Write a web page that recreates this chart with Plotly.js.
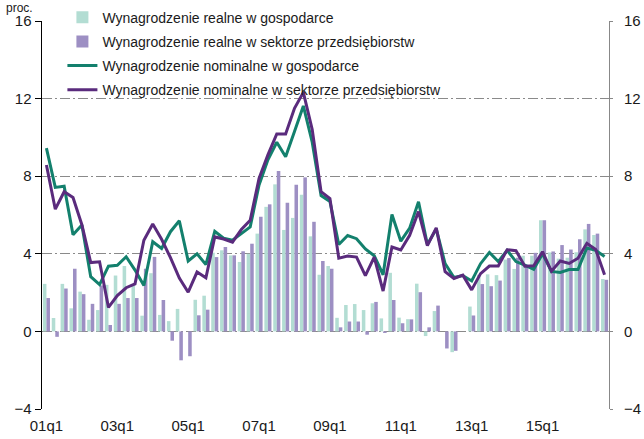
<!DOCTYPE html>
<html>
<head>
<meta charset="utf-8">
<script src="https://cdn.plot.ly/plotly-3.0.1.min.js"></script>
<style>html,body{margin:0;padding:0;background:#fff;}#chart{width:644px;height:439px;}</style>
</head>
<body>
<div id="chart"></div>
<script>
const quarters = [
  "01q1","01q2","01q3","01q4","02q1","02q2","02q3","02q4",
  "03q1","03q2","03q3","03q4","04q1","04q2","04q3","04q4",
  "05q1","05q2","05q3","05q4","06q1","06q2","06q3","06q4",
  "07q1","07q2","07q3","07q4","08q1","08q2","08q3","08q4",
  "09q1","09q2","09q3","09q4","10q1","10q2","10q3","10q4",
  "11q1","11q2","11q3","11q4","12q1","12q2","12q3","12q4",
  "13q1","13q2","13q3","13q4","14q1","14q2","14q3","14q4",
  "15q1","15q2","15q3","15q4","16q1","16q2","16q3","16q4"
];
const tickLabels = ["01q1","03q1","05q1","07q1","09q1","11q1","13q1","15q1"];
const yTicks = [-4, 0, 4, 8, 12, 16];

const realGosp = [
  2.45, 0.69, 2.45, 1.19, 2.05, 0.60, 1.10, 2.40,
  2.88, 3.37, 2.37, 0.81, 3.00, 0.85, 0.53, 1.16,
  0.00, 1.63, 1.84, 4.06, 4.18, 3.92, 3.58, 4.00,
  5.04, 6.42, 7.58, 5.23, 5.85, 7.05, 4.90, 2.92,
  3.37, 0.70, 1.36, 1.41, 1.10, 1.45, 0.67, 3.02,
  0.71, 0.63, 2.46, -0.24, 1.05, 0.00, -1.07, 0.00,
  1.28, 2.92, 2.94, 2.90, 3.70, 3.22, 3.90, 3.90,
  5.73, 4.07, 3.75, 3.80, 4.08, 5.26, 4.97, 2.70
];
const realPrzeds = [
  1.72, -0.28, 2.21, 3.23, 1.92, 1.42, 2.37, 0.33,
  1.42, 1.72, 1.72, 3.23, 3.84, 1.62, -0.48, -1.49,
  -1.28, 0.83, 1.12, 3.83, 4.35, 3.92, 4.13, 4.52,
  5.91, 6.55, 8.27, 6.63, 7.56, 7.94, 5.65, 3.63,
  3.23, 0.21, 0.51, 0.51, -0.17, 1.52, -0.08, 1.62,
  0.42, 0.62, 2.02, 0.21, 1.33, -0.88, -1.00, 0.00,
  0.82, 2.44, 2.33, 2.62, 3.78, 3.80, 3.35, 4.05,
  5.73, 4.12, 4.45, 4.22, 4.75, 5.54, 5.04, 2.66
];
const nomGosp = [
  9.45, 7.42, 7.48, 4.98, 5.48, 2.82, 2.41, 3.36,
  3.41, 3.85, 3.16, 2.37, 4.62, 4.27, 5.14, 5.70,
  3.63, 4.00, 3.44, 5.16, 4.80, 4.70, 5.04, 5.39,
  7.55, 8.85, 9.75, 9.00, 10.30, 11.62, 9.75, 7.00,
  6.70, 4.48, 4.94, 4.78, 4.25, 3.90, 2.92, 6.03,
  4.65, 5.32, 6.68, 4.48, 5.28, 3.50, 2.78, 2.88,
  2.60, 3.49, 4.07, 3.60, 4.18, 3.60, 3.42, 3.20,
  4.00, 3.09, 3.04, 3.19, 3.19, 4.30, 4.18, 3.86
];
const nomPrzeds = [
  8.58, 6.30, 7.20, 6.90, 5.50, 3.55, 3.59, 1.24,
  1.85, 2.25, 2.45, 4.70, 5.54, 4.75, 3.80, 2.75,
  2.02, 3.06, 2.76, 4.87, 4.76, 4.60, 5.25, 5.73,
  7.89, 9.10, 10.18, 10.18, 11.50, 12.32, 10.40, 7.20,
  6.85, 3.77, 3.88, 3.83, 2.87, 3.83, 2.08, 4.35,
  4.20, 4.95, 6.18, 4.42, 5.34, 3.08, 2.73, 2.90,
  2.14, 2.98, 3.37, 3.37, 4.21, 4.16, 3.36, 3.38,
  4.11, 3.10, 3.63, 3.50, 3.77, 4.54, 4.22, 2.92
];

const names = [
  "Wynagrodzenie realne w gospodarce",
  "Wynagrodzenie realne w sektorze przedsiębiorstw",
  "Wynagrodzenie nominalne w gospodarce",
  "Wynagrodzenie nominalne w sektorze przedsiębiorstw"
];
const colors = ["#b3ddd3", "#9d8fc3", "#13806d", "#5a2b7d"];

const font = "Liberation Sans, Arial, sans-serif";
const boundaryTicks = tickLabels.map(t => quarters.indexOf(t) - 0.5).concat([quarters.length - 0.5]);

const traces = [
  {type: "bar", x: quarters, y: realGosp, name: names[0], marker: {color: colors[0]}, legendgroup: "a", xaxis: "x", yaxis: "y"},
  {type: "bar", x: quarters, y: realPrzeds, name: names[1], marker: {color: colors[1]}, legendgroup: "b", xaxis: "x", yaxis: "y"},
  {type: "scatter", mode: "lines", x: quarters, y: nomGosp, name: names[2], line: {color: colors[2], width: 3}, legendgroup: "c", xaxis: "x", yaxis: "y"},
  {type: "scatter", mode: "lines", x: quarters, y: nomPrzeds, name: names[3], line: {color: colors[3], width: 3}, legendgroup: "d", xaxis: "x", yaxis: "y2"}
];

const layout = {
  width: 644, height: 439,
  margin: {l: 42, r: 35, t: 21, b: 30, autoexpand: false},
  paper_bgcolor: "#fff", plot_bgcolor: "#fff",
  font: {family: font, color: "#1a1a1a", size: 15},
  barmode: "group", bargap: 0.2, bargroupgap: 0,
  showlegend: true,
  legend: {
    x: 0.036, y: 1.05, xanchor: "left", yanchor: "top",
    bgcolor: "rgba(0,0,0,0)", traceorder: "grouped", tracegroupgap: 3,
    font: {size: 14, family: font, color: "#1a1a1a"}
  },
  xaxis: {
    type: "category", categoryarray: quarters, categoryorder: "array",
    range: [-0.5, quarters.length - 0.5],
    tickvals: tickLabels, ticks: "", showline: false, showgrid: false, zeroline: false,
    tickfont: {size: 15, family: font, color: "#1a1a1a"},
    ticklabelstandoff: 6
  },
  xaxis2: {
    type: "linear", overlaying: "x", anchor: "free", position: 0.2,
    range: [-0.5, quarters.length - 0.5],
    tickvals: boundaryTicks, ticks: "outside", ticklen: 5, tickwidth: 1.5, tickcolor: "#000",
    showticklabels: false, showline: true, linecolor: "#000", linewidth: 1.5,
    showgrid: false, zeroline: false
  },
  yaxis: {
    range: [-4, 16], tickvals: yTicks, ticks: "outside", ticklen: 6, tickcolor: "#000",
    showline: true, linecolor: "#000", linewidth: 1.5,
    showgrid: true, gridcolor: "#8a8a8a", gridwidth: 1, griddash: "10px,3px,2px,3px",
    zeroline: false, tickfont: {size: 15, family: font, color: "#1a1a1a"}
  },
  yaxis2: {
    overlaying: "y", side: "right", anchor: "x",
    range: [-4, 16], tickvals: yTicks, ticks: "outside", ticklen: 3, tickcolor: "#888",
    showline: true, linecolor: "#888", linewidth: 1,
    showgrid: false, zeroline: false, ticklabelstandoff: 8,
    tickfont: {size: 15, family: font, color: "#1a1a1a"}
  },
  annotations: [{
    text: "proc.", xref: "paper", yref: "paper", x: -0.066, y: 1.054,
    xanchor: "left", yanchor: "top", showarrow: false, borderpad: 0,
    font: {size: 12, family: font, color: "#1a1a1a"}
  }]
};

Plotly.newPlot("chart", traces, layout, {displayModeBar: false, staticPlot: true});
</script>
</body>
</html>
